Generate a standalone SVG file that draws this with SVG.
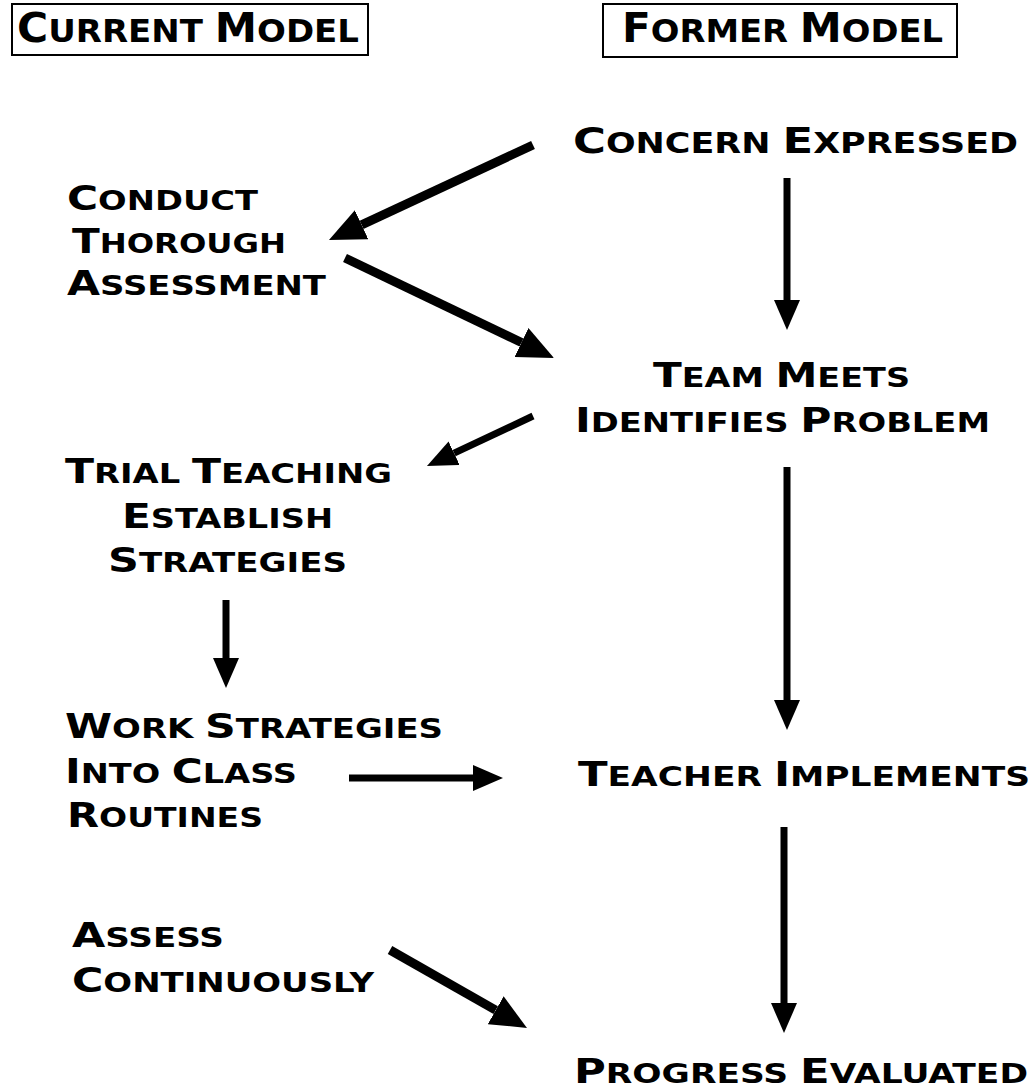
<svg xmlns="http://www.w3.org/2000/svg" width="1036" height="1089" viewBox="0 0 1036 1089">
<style>
.t{font-family:"DejaVu Sans","Liberation Sans",sans-serif;font-weight:bold;font-size:34px;fill:#000}
.s{font-size:27px;text-transform:uppercase}
.h{font-size:40px}
.hs{font-size:32px;text-transform:uppercase}
.box{fill:#fff;stroke:#000;stroke-width:2}
.c{fill:none;stroke:#000;stroke-linecap:butt}
</style>
<defs>
<marker id="ah" markerUnits="userSpaceOnUse" markerWidth="30" markerHeight="26" viewBox="0 0 30 26" refX="0" refY="13" orient="auto"><path d="M0,0 L30,13 L0,26 z" fill="#000"/></marker>
<marker id="ahL" markerUnits="userSpaceOnUse" markerWidth="36" markerHeight="32" viewBox="0 0 36 32" refX="0" refY="16" orient="auto"><path d="M0,0 L36,16 L0,32 z" fill="#000"/></marker>
</defs>
<rect width="1036" height="1089" fill="#fff"/>
<g id="current-model">
<rect class="box" x="12" y="4" width="356" height="51"/>
<text class="t h" x="17" y="42" textLength="342" lengthAdjust="spacingAndGlyphs">C<tspan class="hs">urrent </tspan>M<tspan class="hs">odel</tspan></text>
</g>
<g id="former-model">
<rect class="box" x="603" y="4" width="354" height="53"/>
<text class="t h" x="622" y="42" textLength="321" lengthAdjust="spacingAndGlyphs">F<tspan class="hs">ormer </tspan>M<tspan class="hs">odel</tspan></text>
</g>
<g id="concern-expressed">
<text class="t" style="font-size:36px" x="573" y="153" textLength="445" lengthAdjust="spacingAndGlyphs">C<tspan class="s" style="font-size:28px">oncern </tspan>E<tspan class="s" style="font-size:28px">xpressed</tspan></text>
</g>
<g id="conduct-assessment">
<text class="t" x="67" y="210" textLength="191" lengthAdjust="spacingAndGlyphs">C<tspan class="s">onduct</tspan></text>
<text class="t" x="72" y="253" textLength="214" lengthAdjust="spacingAndGlyphs">T<tspan class="s">horough</tspan></text>
<text class="t" x="67" y="295" textLength="259" lengthAdjust="spacingAndGlyphs">A<tspan class="s">ssessment</tspan></text>
</g>
<g id="team-meets">
<text class="t" x="653" y="387" textLength="257" lengthAdjust="spacingAndGlyphs">T<tspan class="s">eam </tspan>M<tspan class="s">eets</tspan></text>
<text class="t" x="575" y="432" textLength="415" lengthAdjust="spacingAndGlyphs">I<tspan class="s">dentifies </tspan>P<tspan class="s">roblem</tspan></text>
</g>
<g id="trial-teaching">
<text class="t" x="65" y="483" textLength="327" lengthAdjust="spacingAndGlyphs">T<tspan class="s">rial </tspan>T<tspan class="s">eaching</tspan></text>
<text class="t" x="122" y="528" textLength="211" lengthAdjust="spacingAndGlyphs">E<tspan class="s">stablish</tspan></text>
<text class="t" x="108" y="572" textLength="239" lengthAdjust="spacingAndGlyphs">S<tspan class="s">trategies</tspan></text>
</g>
<g id="work-strategies">
<text class="t" x="65" y="738" textLength="378" lengthAdjust="spacingAndGlyphs">W<tspan class="s">ork </tspan>S<tspan class="s">trategies</tspan></text>
<text class="t" x="65" y="783" textLength="232" lengthAdjust="spacingAndGlyphs">I<tspan class="s">nto </tspan>C<tspan class="s">lass</tspan></text>
<text class="t" x="67" y="827" textLength="196" lengthAdjust="spacingAndGlyphs">R<tspan class="s">outines</tspan></text>
</g>
<g id="teacher-implements">
<text class="t" x="578" y="786" textLength="452" lengthAdjust="spacingAndGlyphs">T<tspan class="s">eacher </tspan>I<tspan class="s">mplements</tspan></text>
</g>
<g id="assess-continuously">
<text class="t" x="72" y="947" textLength="152" lengthAdjust="spacingAndGlyphs">A<tspan class="s">ssess</tspan></text>
<text class="t" x="72" y="992" textLength="302" lengthAdjust="spacingAndGlyphs">C<tspan class="s">ontinuously</tspan></text>
</g>
<g id="progress-evaluated">
<text class="t" x="574" y="1083" textLength="454" lengthAdjust="spacingAndGlyphs">P<tspan class="s">rogress </tspan>E<tspan class="s">valuated</tspan></text>
</g>
<g id="connectors">
<path class="c" stroke-width="7" d="M787,178 L787,300" marker-end="url(#ah)"/>
<path class="c" stroke-width="7" d="M787,467 L787,700" marker-end="url(#ah)"/>
<path class="c" stroke-width="7" d="M784,827 L784,1003" marker-end="url(#ah)"/>
<path class="c" stroke-width="7" d="M226,600 L226,658" marker-end="url(#ah)"/>
<path class="c" stroke-width="7" d="M349,778 L473,778" marker-end="url(#ah)"/>
<path class="c" stroke-width="9" d="M533,145 L361.6,224.8" marker-end="url(#ahL)"/>
<path class="c" stroke-width="9" d="M345,258 L521.5,342.5" marker-end="url(#ahL)"/>
<path class="c" stroke-width="7" d="M533,416 L454.1,453.2" marker-end="url(#ah)"/>
<path class="c" stroke-width="9" d="M390,950 L495.7,1010.2" marker-end="url(#ahL)"/>
</g>
</svg>
